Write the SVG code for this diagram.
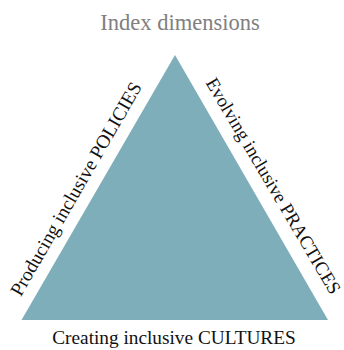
<svg xmlns="http://www.w3.org/2000/svg" width="344" height="350" viewBox="0 0 344 350">
<style>
.t{font-family:"Liberation Serif","Times New Roman",serif;font-size:19.3px;fill:#111;text-anchor:middle}
.title{font-family:"Liberation Serif","Times New Roman",serif;font-size:22.5px;fill:#808080;text-anchor:middle}
</style>
<rect width="344" height="350" fill="#fff"/>
<text class="title" x="180" y="30">Index dimensions</text>
<g id="triangle">
<polygon points="175,55 328,320 21.5,320" fill="#7faebb"/>
</g>
<g id="labels">
<text class="t" transform="translate(81.5,192) rotate(-60)">Producing inclusive POLICIES</text>
<text class="t" style="font-size:18.8px" transform="translate(268,189) rotate(59.5)">Evolving inclusive PRACTICES</text>
<text class="t" x="174" y="344">Creating inclusive CULTURES</text>
</g>
</svg>
